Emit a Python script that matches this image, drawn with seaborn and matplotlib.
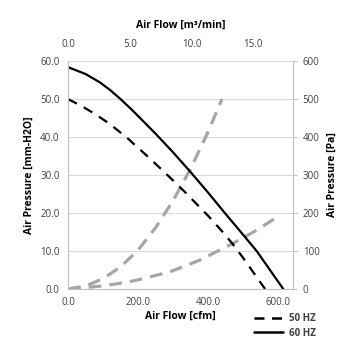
import matplotlib
matplotlib.use("Agg")
import matplotlib.pyplot as plt
import seaborn as sns
from matplotlib.ticker import FormatStrFormatter
from matplotlib.lines import Line2D

# fan curves, air flow in cfm, pressure in mm-H2O
cfm_60hz = [0, 50, 91, 120, 150, 180, 206, 250, 300, 350, 400, 450, 491, 539, 577, 615]
prs_60hz = [58.4, 56.6, 54.4, 52.4, 50.0, 47.4, 45.0, 40.9, 36.0, 30.8, 25.4, 19.8, 15.3, 10.0, 5.0, 0.0]

cfm_50hz = [0, 40, 80, 120, 170, 225, 275, 329, 400, 440, 470, 501, 563]
prs_50hz = [50.0, 48.1, 45.9, 43.4, 39.7, 35.1, 30.8, 26.0, 19.3, 15.2, 11.9, 8.1, 0.0]

# system resistance curves
cfm_sys_a = [0, 50, 100, 150, 200, 250, 300, 350, 400, 440]
prs_sys_a = [0.0, 0.8, 2.7, 5.8, 10.2, 16.1, 23.2, 31.6, 41.3, 50.0]

cfm_sys_b = [0, 100, 168, 200, 291, 377, 471, 540, 606]
prs_sys_b = [0.0, 0.8, 1.8, 2.4, 4.5, 7.6, 12.0, 15.5, 19.5]

CFM_PER_M3MIN = 35.31

sns.set_style("white")
plt.rcParams['font.family'] = ['Open Sans', 'DejaVu Sans']

fig = plt.figure(figsize=(3.55, 3.55), dpi=100)
ax = fig.add_axes([0.1915, 0.186, 0.634, 0.642])

gray = '#a6a6a6'
sns.lineplot(x=cfm_sys_a, y=prs_sys_a, ax=ax, color=gray, lw=2.3,
             linestyle=(0, (4, 2.5)))
sns.lineplot(x=cfm_sys_b, y=prs_sys_b, ax=ax, color=gray, lw=2.3,
             linestyle=(0, (4, 2.5)))
sns.lineplot(x=cfm_50hz, y=prs_50hz, ax=ax, color='black', lw=1.6,
             linestyle=(0, (4.5, 3.5)))
sns.lineplot(x=cfm_60hz, y=prs_60hz, ax=ax, color='black', lw=1.6)

ax.set_xlim(0, 643)
ax.set_ylim(0, 60)
ax.set_xticks([0, 200, 400, 600])
ax.set_yticks(range(0, 61, 10))
ax.xaxis.set_major_formatter(FormatStrFormatter('%.1f'))
ax.yaxis.set_major_formatter(FormatStrFormatter('%.1f'))
ax.grid(axis='y', color='#d9d9d9', lw=0.8)
ax.grid(axis='x', visible=False)

txt = '#404040'
ax.tick_params(labelsize=7, colors=txt, length=3, width=0.8, color='#bfbfbf', pad=3)
for side in ['left', 'bottom']:
    ax.spines[side].set_color('#bfbfbf')
    ax.spines[side].set_linewidth(0.8)
ax.spines['top'].set_visible(False)
ax.spines['right'].set_visible(False)

ax.set_xlabel('Air Flow [cfm]', fontsize=7.5, fontweight='bold', color='black', labelpad=2)
ax.set_ylabel('Air Pressure [mm-H2O]', fontsize=7.5, fontweight='bold', color='black', labelpad=4)

top = ax.secondary_xaxis('top', functions=(lambda c: c / CFM_PER_M3MIN, lambda m: m * CFM_PER_M3MIN))
top.set_xticks([0, 5, 10, 15])
top.xaxis.set_major_formatter(FormatStrFormatter('%.1f'))
top.tick_params(labelsize=7, colors=txt, length=0, pad=8)
top.spines['top'].set_visible(False)
top.set_xlabel('Air Flow [m\u00b3/min]', fontsize=7.5, fontweight='bold', color='black', labelpad=8)

right = ax.secondary_yaxis('right', functions=(lambda v: v * 10, lambda p: p / 10))
right.set_yticks(range(0, 601, 100))
right.yaxis.set_major_formatter(FormatStrFormatter('%d'))
right.tick_params(labelsize=7, colors=txt, length=3, width=0.8, color='#bfbfbf', pad=4)
right.spines['right'].set_color('#bfbfbf')
right.spines['right'].set_linewidth(0.8)
right.set_ylabel('Air Pressure [Pa]', fontsize=7.5, fontweight='bold', color='black', labelpad=5)

handles = [Line2D([], [], color='black', lw=1.8, linestyle=(0, (4, 3))),
           Line2D([], [], color='black', lw=1.8)]
fig.legend(handles, ['50 HZ', '60 HZ'], loc='upper left', bbox_to_anchor=(0.69, 0.142),
           frameon=False, handlelength=3.0, handletextpad=0.6,
           labelspacing=0.35, prop={'weight': 'bold', 'size': 7})
for t in fig.legends[0].get_texts():
    t.set_color(txt)

fig.savefig('out.png', dpi=100)
